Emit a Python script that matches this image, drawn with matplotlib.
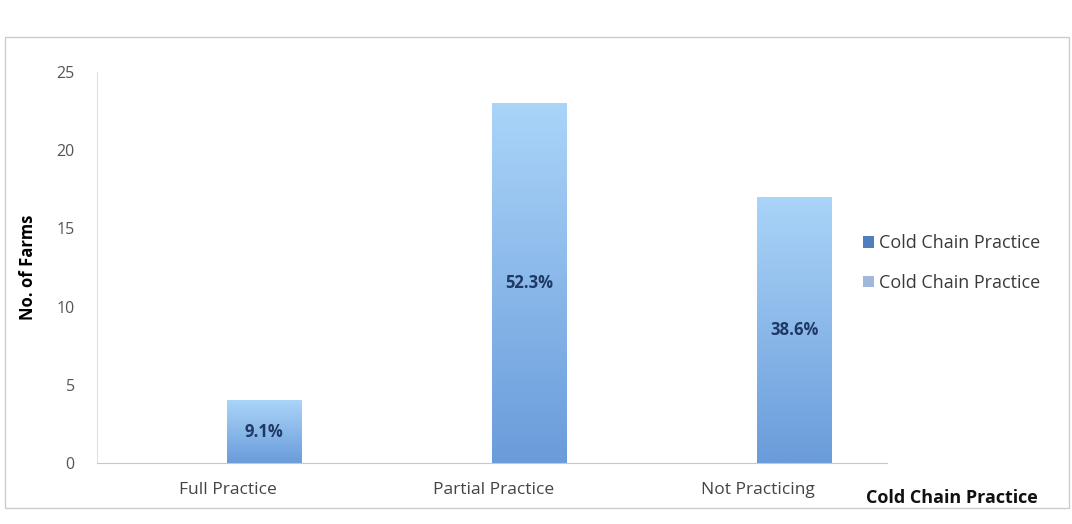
import numpy as np
import matplotlib
matplotlib.use("Agg")
import matplotlib.pyplot as plt
import matplotlib.transforms as mtransforms
from matplotlib.patches import Rectangle, Patch
from matplotlib.colors import LinearSegmentedColormap

categories = ["Full Practice", "Partial Practice", "Not Practicing"]
farms = [4, 23, 17]
pct_labels = ["9.1%", "52.3%", "38.6%"]
series_name = "Cold Chain Practice"

plt.rcParams['font.family'] = ['Open Sans', 'DejaVu Sans']

fig = plt.figure(figsize=(10.72, 5.24), dpi=100)
ax = fig.add_axes([0.0905, 0.1164, 0.737, 0.7462])

x = np.arange(len(categories))
bars = ax.bar(x, farms, width=0.28, color='none', edgecolor='none', zorder=2)

# vertical gradient: light at top, darker at bottom
grad = np.linspace(0, 1, 256).reshape(-1, 1)
cmap = LinearSegmentedColormap.from_list('bl', ['#6a9cdb', '#aad4f8'])
for b in bars:
    x0, y0 = b.get_x(), b.get_y()
    w, h = b.get_width(), b.get_height()
    im = ax.imshow(grad, cmap=cmap, origin='lower', aspect='auto',
                   extent=[x0, x0 + w, y0, y0 + h], zorder=2)
    im.set_clip_path(b)

for xi, v, lab in zip(x, farms, pct_labels):
    ax.text(xi, v / 2, lab, ha='center', va='center', fontsize=12,
            fontweight='bold', color='#1f3864', zorder=3)

ax.set_xlim(-0.63, 2.35)
ax.set_ylim(0, 25)
ax.set_yticks([0, 5, 10, 15, 20, 25])
ax.set_xticks(x)
ax.set_xticklabels(categories)
ax.tick_params(axis='y', length=0, pad=16, labelsize=11.5, labelcolor='#555555')
ax.tick_params(axis='x', length=0, pad=14, labelsize=12.5, labelcolor='#444444')
# category labels sit a little left of the bars in the original
shift = mtransforms.ScaledTranslation(-0.36, 0, fig.dpi_scale_trans)
for lbl in ax.get_xticklabels():
    lbl.set_transform(lbl.get_transform() + shift)
for s in ['top', 'right']:
    ax.spines[s].set_visible(False)
ax.spines['left'].set_color('#e0e0e0')
ax.spines['bottom'].set_color('#c8c8c8')

ax.set_ylabel("No. of Farms", fontsize=12, fontweight='bold', labelpad=14)
fig.text(0.808, 0.05, "Cold Chain Practice", fontsize=13, fontweight='bold',
         color='#111111', ha='left', va='center')

handles = [Patch(facecolor='#4f7fbf', edgecolor='none'),
           Patch(facecolor='#9fb8dc', edgecolor='none')]
fig.legend(handles, [series_name, series_name], loc='center left',
           bbox_to_anchor=(0.79, 0.498), frameon=False, fontsize=13,
           handlelength=0.6, handleheight=0.6, handletextpad=0.3,
           labelspacing=1.2, labelcolor='#3a3a3a')

# chart area border
fig.patches.append(Rectangle((0.005, 0.03), 0.992, 0.9, transform=fig.transFigure,
                             fill=False, edgecolor='#cccccc', linewidth=1))

fig.savefig("out.png", dpi=100)
